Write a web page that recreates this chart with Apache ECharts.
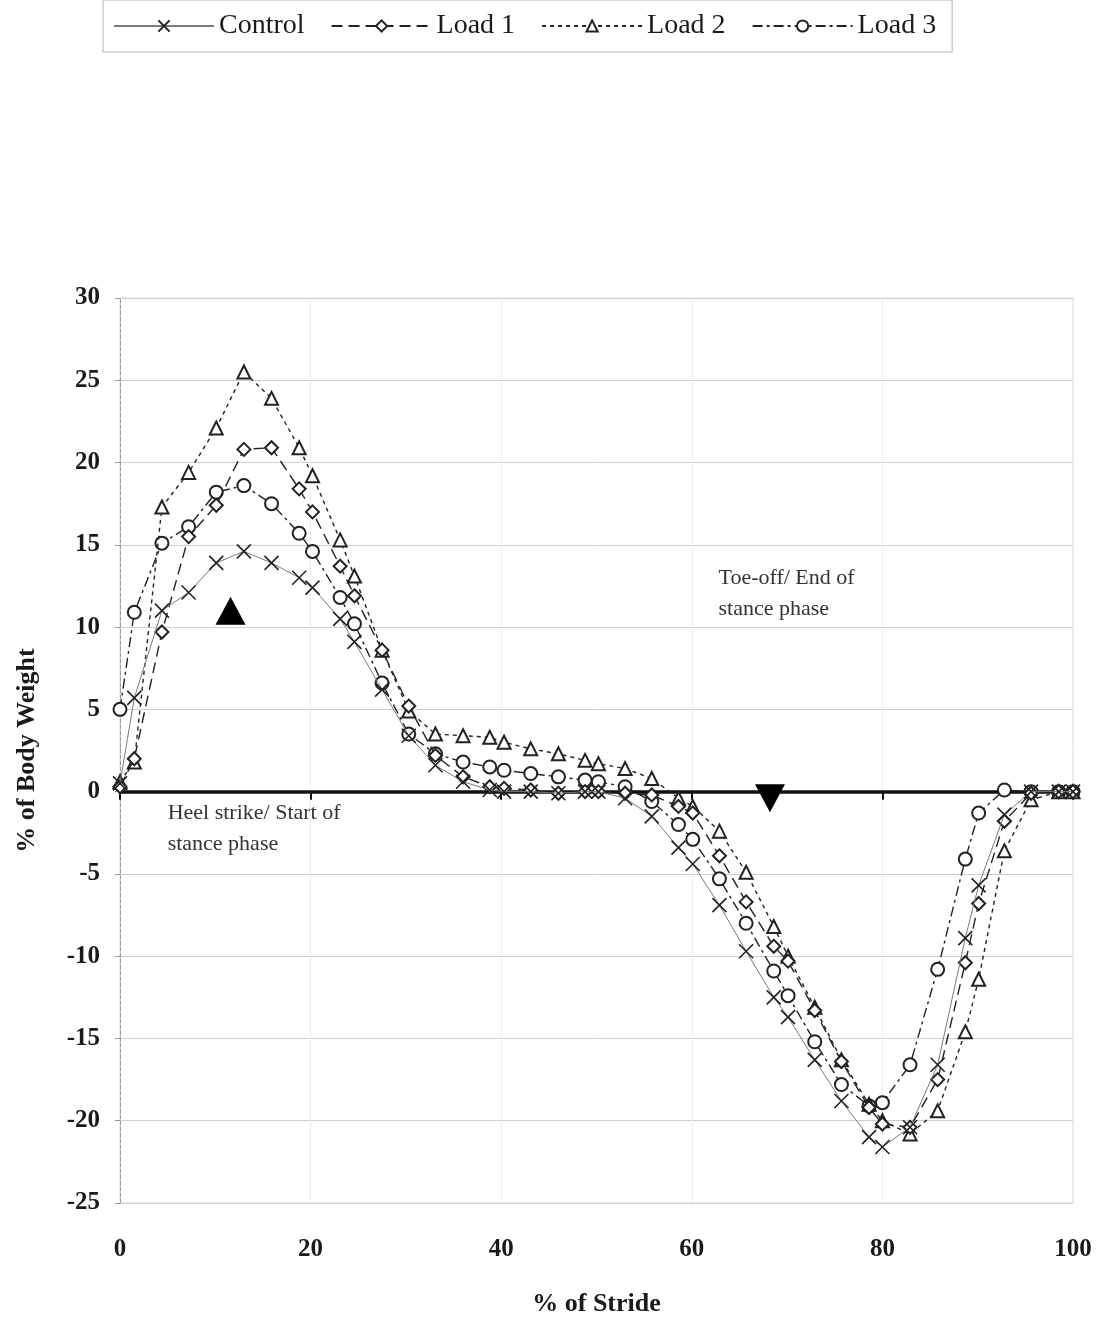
<!DOCTYPE html>
<html>
<head>
<meta charset="utf-8">
<script src="https://cdn.jsdelivr.net/npm/echarts@6/dist/echarts.min.js"></script>
<style>
html,body{margin:0;padding:0;background:#fff;}
#chart{width:1106px;height:1322px;}
</style>
</head>
<body>
<div id="chart"></div>
<script>
// % of stride sample positions
var stride = [0, 1.5, 4.4, 7.2, 10.1, 13.0, 15.9, 18.8, 20.2, 23.1, 24.6, 27.5, 30.3, 33.1, 36.0, 38.8, 40.3, 43.1, 46.0, 48.8, 50.2, 53.0, 55.8, 58.6, 60.1, 62.9, 65.7, 68.6, 70.1, 72.9, 75.7, 78.6, 80.0, 82.9, 85.8, 88.7, 90.1, 92.8, 95.6, 98.5, 100];

var control = [0.5, 5.7, 11.0, 12.1, 13.9, 14.6, 13.9, 13.0, 12.4, 10.5, 9.1, 6.2, 3.4, 1.6, 0.6, 0.1, 0.0, 0.0, -0.1, 0.0, 0.0, -0.4, -1.5, -3.4, -4.4, -6.9, -9.7, -12.5, -13.7, -16.3, -18.8, -21.0, -21.6, -20.4, -16.6, -8.9, -5.7, -1.4, 0, 0, 0];
var load1 = [0.3, 2.0, 9.7, 15.5, 17.4, 20.8, 20.9, 18.4, 17.0, 13.7, 11.9, 8.6, 5.2, 2.2, 0.9, 0.3, 0.2, 0.1, -0.1, 0, 0, -0.1, -0.2, -0.9, -1.3, -3.9, -6.7, -9.4, -10.3, -13.3, -16.4, -19.2, -20.2, -20.4, -17.5, -10.4, -6.8, -1.8, -0.1, 0, 0];
var load2 = [0.6, 1.8, 17.3, 19.4, 22.1, 25.5, 23.9, 20.9, 19.2, 15.3, 13.1, 8.6, 4.9, 3.5, 3.4, 3.3, 3.0, 2.6, 2.3, 1.9, 1.7, 1.4, 0.8, -0.4, -0.9, -2.4, -4.9, -8.2, -10.0, -13.1, -16.3, -19.0, -20.0, -20.8, -19.4, -14.6, -11.4, -3.6, -0.5, 0, 0];
var load3 = [5.0, 10.9, 15.1, 16.1, 18.2, 18.6, 17.5, 15.7, 14.6, 11.8, 10.2, 6.6, 3.5, 2.3, 1.8, 1.5, 1.3, 1.1, 0.9, 0.7, 0.6, 0.3, -0.6, -2.0, -2.9, -5.3, -8.0, -10.9, -12.4, -15.2, -17.8, -19.1, -18.9, -16.6, -10.8, -4.1, -1.3, 0.1, 0, 0, 0];

var seriesNames = ['Control', 'Load 1', 'Load 2', 'Load 3'];
var xTicks = [0, 20, 40, 60, 80, 100];
var yTicks = [-25, -20, -15, -10, -5, 0, 5, 10, 15, 20, 25, 30];

// event markers (data coordinates)
var heelStrikeMarker = [11.6, 11.0];
var toeOffMarker = [68.2, -0.4];
var heelStrikeText = 'Heel strike/ Start of\nstance phase';
var toeOffText = 'Toe-off/ End of\nstance phase';
var heelStrikeTextAt = [5.0, -0.4];
var toeOffTextAt = [62.8, 13.9];

function pairs(ys) { return ys.map(function (v, i) { return [stride[i], v]; }); }

var SERIF = '"Liberation Serif", "DejaVu Serif", serif';
var INK = '#1a1a1a';

var chart = echarts.init(document.getElementById('chart'), null, {renderer: 'canvas'});

var option = {
  backgroundColor: '#fff',
  animation: false,
  textStyle: {fontFamily: SERIF},
  legend: {
    top: 0, left: 103,
    padding: [12, 16, 12, 10],
    borderColor: '#b5b5b5', borderWidth: 1,
    itemWidth: 100, itemHeight: 14, itemGap: 26,
    textStyle: {fontFamily: SERIF, fontSize: 28, color: INK},
    data: seriesNames
  },
  grid: {left: 120, top: 298, right: 33, bottom: 117, show: true, borderColor: '#dcdcdc', borderWidth: 1},
  xAxis: [{
    type: 'value', min: xTicks[0], max: xTicks[xTicks.length - 1], interval: 20,
    position: 'bottom',
    axisLine: {show: false, onZero: false},
    axisTick: {show: false},
    axisLabel: {fontFamily: SERIF, fontWeight: 'bold', fontSize: 25, color: INK, margin: 34},
    splitLine: {show: true, lineStyle: {color: '#ececec', width: 1}},
    name: '% of Stride', nameLocation: 'middle', nameGap: 88,
    nameTextStyle: {fontFamily: SERIF, fontWeight: 'bold', fontSize: 26, color: INK}
  }, {
    type: 'value', min: xTicks[0], max: xTicks[xTicks.length - 1], interval: 20,
    position: 'top',
    axisLine: {show: true, onZero: true, lineStyle: {color: '#111', width: 3.5}},
    axisTick: {show: true, inside: true, length: 8, lineStyle: {color: '#111', width: 2}},
    axisLabel: {show: false},
    splitLine: {show: false}
  }],
  yAxis: {
    type: 'value', min: yTicks[0], max: yTicks[yTicks.length - 1], interval: 5,
    axisLine: {show: true, lineStyle: {color: '#9a9a9a', width: 1, type: 'dashed'}},
    axisTick: {show: true, length: 5, lineStyle: {color: '#9a9a9a'}},
    axisLabel: {fontFamily: SERIF, fontWeight: 'bold', fontSize: 25, color: INK, margin: 20},
    splitLine: {show: true, lineStyle: {color: '#cfcfcf', width: 1}},
    name: '% of Body Weight', nameLocation: 'middle', nameGap: 80, nameRotate: 90,
    nameTextStyle: {fontFamily: SERIF, fontWeight: 'bold', fontSize: 26, color: INK}
  },
  series: [{
    name: seriesNames[0], type: 'line', data: pairs(control),
    symbol: 'path://M0,0 L10,10 M10,0 L0,10', symbolSize: 14,
    itemStyle: {color: '#222', borderColor: '#222', borderWidth: 1.6},
    lineStyle: {color: '#7a7a7a', width: 1, type: 'solid'},
    z: 5,
    markPoint: {
      symbol: 'triangle', symbolSize: [30, 28], silent: true,
      itemStyle: {color: '#000'}, label: {show: false},
      data: [
        {coord: heelStrikeMarker},
        {coord: toeOffMarker, symbolRotate: 180}
      ]
    }
  }, {
    name: seriesNames[1], type: 'line', data: pairs(load1),
    symbol: 'emptyDiamond', symbolSize: 13,
    itemStyle: {color: '#222', borderWidth: 1.4},
    lineStyle: {color: '#222', width: 1.4, type: [11, 6]},
    z: 4
  }, {
    name: seriesNames[2], type: 'line', data: pairs(load2),
    symbol: 'emptyTriangle', symbolSize: 13,
    itemStyle: {color: '#222', borderWidth: 1.4},
    lineStyle: {color: '#222', width: 1.4, type: [4, 4]},
    z: 3
  }, {
    name: seriesNames[3], type: 'line', data: pairs(load3),
    symbol: 'emptyCircle', symbolSize: 13,
    itemStyle: {color: '#222', borderWidth: 1.4},
    lineStyle: {color: '#222', width: 1.4, type: [10, 4, 3, 4]},
    z: 2
  }],
  graphic: []
};

chart.setOption(option);

// annotation texts anchored at data coordinates
var p1 = chart.convertToPixel({gridIndex: 0}, heelStrikeTextAt);
var p2 = chart.convertToPixel({gridIndex: 0}, toeOffTextAt);
chart.setOption({
  graphic: [
    {type: 'text', left: p1[0], top: p1[1], silent: true,
     style: {text: heelStrikeText, fontFamily: SERIF, fontSize: 22, lineHeight: 31, fill: '#333'}},
    {type: 'text', left: p2[0], top: p2[1], silent: true,
     style: {text: toeOffText, fontFamily: SERIF, fontSize: 22, lineHeight: 31, fill: '#333'}}
  ]
});
</script>
</body>
</html>
